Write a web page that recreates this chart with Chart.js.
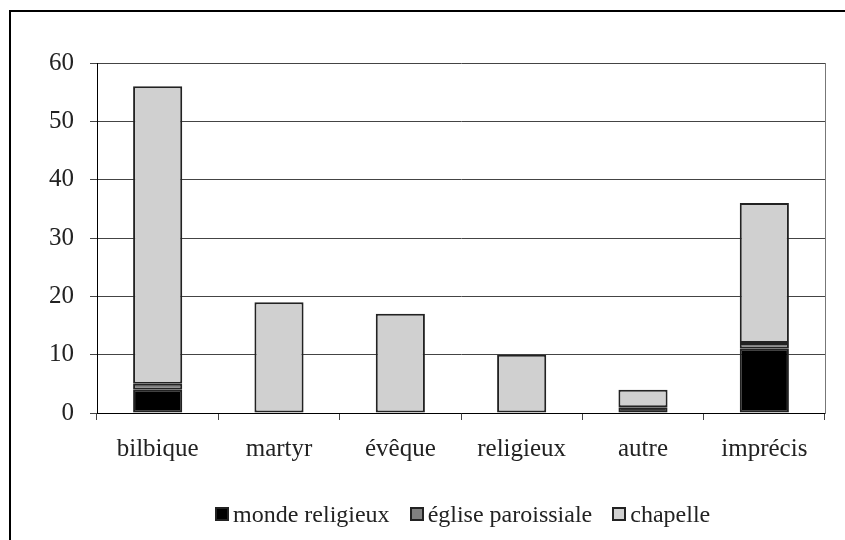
<!DOCTYPE html>
<html><head><meta charset="utf-8">
<script src="https://cdn.jsdelivr.net/npm/chart.js@4.4.1/dist/chart.umd.min.js"></script>
<style>
html,body{margin:0;padding:0;background:#fff;overflow:hidden;}
#wrap{position:relative;width:845px;height:540px;}
#frame{position:absolute;left:9px;top:10px;width:900px;height:600px;border-left:2px solid #000;border-top:2px solid #000;}
canvas{position:absolute;left:0;top:0;}
#legend{position:absolute;left:215px;top:501px;font-family:"Liberation Serif",serif;font-size:24px;color:#222;white-space:nowrap;}
#legend span.item{display:inline-block;margin-right:20px;}
#legend span.box{display:inline-block;width:10px;height:10px;border:2px solid #222;margin-right:4px;vertical-align:1px;}
</style></head>
<body><div id="wrap"><div id="frame"></div><canvas id="c" width="845" height="540"></canvas><div id="legend"></div></div>
<script>
const categories = ["bilbique","martyr","évêque","religieux","autre","imprécis"];
const seriesNames = ["monde religieux","église paroissiale","chapelle"];
const mondeReligieux = [4,0,0,0,1,11];
const egliseParoissiale = [1,0,0,0,0,1];
const chapelle = [51,19,17,10,3,24];
const yTicks = [0,10,20,30,40,50,60];

const fills = ["#000000","#808080","#d0d0d0"];
const values = [mondeReligieux, egliseParoissiale, chapelle];
const font = {family:"Liberation Serif", size:25};

const chart = new Chart(document.getElementById('c'), {
  type:'bar',
  data:{labels:categories, datasets: seriesNames.map((n,i)=>({label:n,data:values[i],backgroundColor:fills[i],borderColor:"#222",borderWidth:2,borderSkipped:false,categoryPercentage:1,barPercentage:0.405}))},
  options:{
    responsive:false, animation:false, devicePixelRatio:1,
    layout:{padding:{top:63,left:0,right:0,bottom:0}},
    plugins:{legend:{display:false},tooltip:{enabled:false}},
    scales:{
      x:{stacked:true, offset:true,
        grid:{offset:true,drawOnChartArea:false,drawTicks:true,tickLength:7,color:"#444"},
        border:{display:true,color:"#000",width:1},
        ticks:{font:font,color:"#222",padding:14},
        afterFit:(s)=>{s.height=127;}
      },
      y:{stacked:true,min:0,max:60,
        afterBuildTicks:(s)=>{s.ticks=yTicks.map(v=>({value:v}));},
        grid:{color:"#444",tickLength:7,drawTicks:true},
        border:{display:true,color:"#000",width:1},
        ticks:{font:font,color:"#222",padding:16},
        afterFit:(s)=>{s.width=97;}
      },
      yr:{position:'right',min:0,max:60,
        grid:{display:false},ticks:{display:false},
        border:{display:true,color:"#777",width:1},
        afterFit:(s)=>{s.width=20;}
      }
    }
  }
});
const lg=document.getElementById('legend');
seriesNames.forEach((n,i)=>{
  const it=document.createElement('span');it.className='item';
  const b=document.createElement('span');b.className='box';b.style.background=fills[i];
  it.appendChild(b);it.appendChild(document.createTextNode(n));lg.appendChild(it);
});
</script></body></html>
